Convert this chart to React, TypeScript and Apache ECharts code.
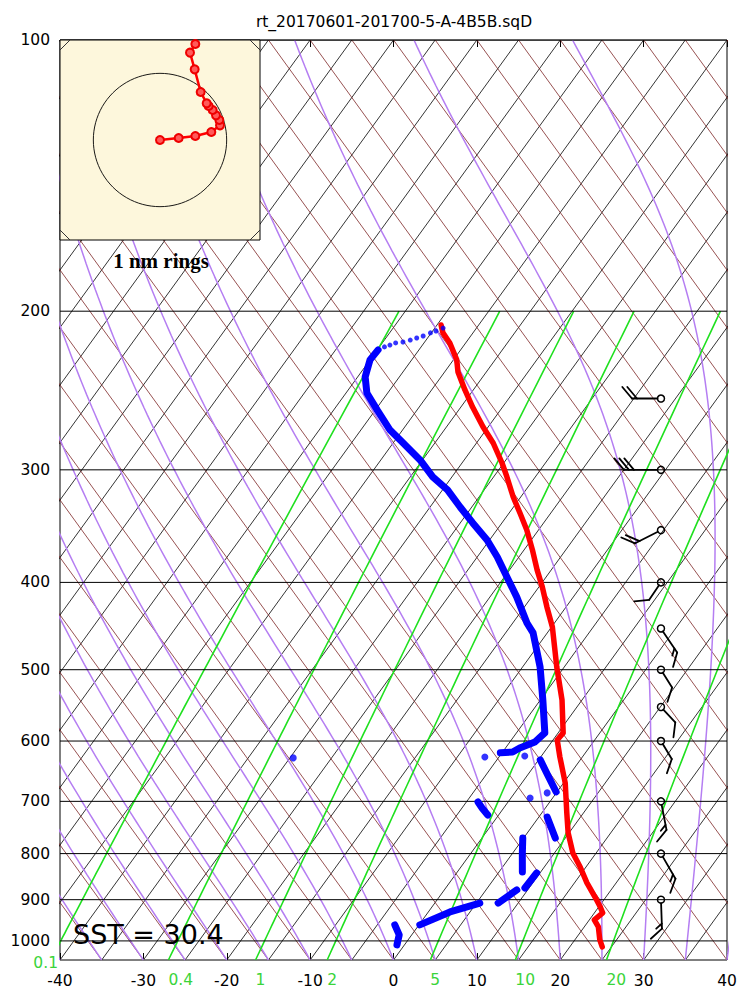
import React, { useEffect, useRef } from "react";
import * as echarts from "echarts";

const FONT = "DejaVu Sans";
const TITLE = "rt_20170601-201700-5-A-4B5B.sqD";
const SST_TEXT = "SST = 30.4";
const RING_TEXT = "1 nm rings";

const P_BOTTOM = 1050;
const P_TOP = 100;
const LOG_BOTTOM = Math.log10(P_BOTTOM);
const LOG_TOP = Math.log10(P_TOP);
const SKEW_SPAN = 80; // isotherm shift (°C) from bottom edge to top edge

const skewX = (t: number, p: number) =>
  t + (SKEW_SPAN * (LOG_BOTTOM - Math.log10(p))) / (LOG_BOTTOM - LOG_TOP);

// ---- diagram reference lines ----
const isobars = [100, 200, 300, 400, 500, 600, 700, 800, 900, 1000];
const isothermStarts: number[] = [];
for (let t = -120; t <= 40; t += 5) isothermStarts.push(t);
const dryStarts: number[] = [];
for (let t = -40; t <= 120; t += 5) dryStarts.push(t);
const moistStarts: number[] = [];
for (let t = -40; t <= 40; t += 5) moistStarts.push(t);
const mixingRatios = [0.1, 0.4, 1, 2, 5, 10, 20];
const mixingLabels = ["0.1", "0.4", "1", "2", "5", "10", "20"];
const MIXING_TOP = 200;

// ---- temperature profile (hPa, °C) ----
const tempP = [207.2, 211.4, 216.9, 226.5, 233.6, 244.6, 255.5, 268.9, 280.1, 294.8, 305.5, 321.6, 335.0, 349.9, 368.1, 387.4, 404.6, 425.9, 448.3, 496.5, 540.2, 587.6, 598.3, 624.9, 667.8, 721.1, 758.9, 798.7, 827.8, 862.3, 894.0, 917.1, 931.0, 947.7, 965.0, 997.5, 1015.5];
const tempT = [-49.5, -48.6, -46.9, -44.6, -43.4, -41.0, -38.6, -35.6, -33.0, -30.2, -28.4, -25.9, -23.7, -21.4, -19.0, -16.7, -14.6, -12.3, -9.9, -5.9, -2.4, 0.6, 0.5, 2.3, 5.2, 8.0, 9.9, 12.2, 14.3, 16.5, 18.7, 20.2, 21.0, 20.6, 21.7, 23.0, 23.9];

// ---- dewpoint profile: continuous segments ----
const dewSegP = [
  [220.8, 226.5, 236.6, 246.5, 257.4, 271.0, 280.1, 292.5, 305.5, 315.8, 329.9, 343.6, 358.9, 374.8, 394.5, 415.1, 443.7, 455.1, 496.5, 540.2, 587.6, 601.4, 610.7, 617.0, 618.4],
  [629.6, 654.3, 683.4],
  [701.2, 712.0, 724.9],
  [728.6, 768.8],
  [768.8, 800.0, 838.4],
  [840.5, 873.5],
  [877.9, 907.8],
  [907.8, 928.7, 959.8],
  [959.8, 984.7, 1010.2],
];
const dewSegT = [
  [-54.9, -55.0, -54.1, -52.5, -49.8, -46.5, -43.8, -40.3, -37.3, -34.4, -31.4, -28.5, -25.3, -22.6, -19.7, -16.8, -13.3, -11.7, -7.9, -4.7, -1.6, -2.0, -3.3, -3.8, -5.2],
  [0.2, 2.4, 4.9],
  [-3.6, -2.6, -1.3],
  [6.0, 8.8],
  [4.9, 6.2, 7.8],
  [9.6, 9.5],
  [8.7, 7.6],
  [5.4, 2.6, 0.1],
  [-2.9, -1.5, -0.9],
];
// isolated dewpoint dots
const dewDotP = [624.9, 623.3, 626.4, 694.0, 685.0];
const dewDotT = [-6.7, -2.0, -29.6, 2.3, 3.9];
// sparse dewpoint dots near the top of the sounding
const dewTopP = [208.8, 210.4, 211.4, 213.1, 214.2, 215.3, 216.4, 216.9, 218.1, 219.1];
const dewTopT = [-49.0, -49.6, -50.1, -50.7, -51.3, -51.9, -52.6, -53.4, -53.9, -54.4];

// ---- wind barbs ----
const BARB_X = 32.08;
const windP = [250, 300, 350, 400, 450, 500, 550, 600, 700, 800, 900];
const windDir = [270, 270, 243, 214, 146, 148, 137, 149, 169, 150, 178];
const windSpd = [20, 30, 20, 10, 15, 10, 10, 10, 15, 15, 15];

// ---- hodograph (nm) ----
const hodoU = [0, 0.28, 0.53, 0.77, 0.9, 0.89, 0.84, 0.79, 0.73, 0.7, 0.61, 0.52, 0.45, 0.53];
const hodoV = [0, 0.03, 0.06, 0.12, 0.22, 0.3, 0.37, 0.45, 0.51, 0.55, 0.72, 1.06, 1.31, 1.44];
const RING_RADII = [1];

function moistAdiabat(t0: number): number[][] {
  const pts: number[][] = [];
  let T = t0 + 273.15;
  const n = 140;
  const l0 = Math.log(P_BOTTOM);
  const l1 = Math.log(P_TOP);
  const h = (l1 - l0) / n;
  const rate = (TK: number, p: number) => {
    const tc = TK - 273.15;
    const es = 6.112 * Math.exp((17.67 * tc) / (tc + 243.5));
    const rs = (0.622 * es) / Math.max(p - es, 1e-6);
    const Lv = 2.501e6;
    return (287.04 * TK + Lv * rs) / (1005.7 + (Lv * Lv * rs * 0.622) / (287.04 * TK * TK));
  };
  for (let i = 0; i <= n; i++) {
    const lp = l0 + i * h;
    const p = Math.exp(lp);
    pts.push([skewX(T - 273.15, p), Math.log10(p)]);
    const k1 = rate(T, p);
    const k2 = rate(T + k1 * h, Math.exp(lp + h));
    T += 0.5 * (k1 + k2) * h;
  }
  return pts;
}

function mixingDewpoint(w: number, p: number) {
  const e = (w * p) / (622 + w);
  const l = Math.log(e / 6.112);
  return (243.5 * l) / (17.67 - l);
}

function mixingLine(w: number): number[][] {
  const pts: number[][] = [];
  for (let p = P_BOTTOM; p >= MIXING_TOP; p -= 10) {
    pts.push([skewX(mixingDewpoint(w, p), p), Math.log10(p)]);
  }
  return pts;
}

const bgLine = (data: number[][], color: string, width: number, z = 2) => ({
  type: "line",
  data,
  showSymbol: false,
  symbol: "none",
  silent: true,
  clip: true,
  animation: false,
  xAxisIndex: 0,
  yAxisIndex: 0,
  z,
  lineStyle: { color, width },
});

export default function App() {
  const ref = useRef<HTMLDivElement>(null);

  useEffect(() => {
    document.body.style.margin = "0";
    if (!ref.current) return;
    const chart = echarts.init(ref.current, undefined, { renderer: "svg" });

    const series: any[] = [];

    isothermStarts.forEach((t) =>
      series.push(bgLine([[t, LOG_BOTTOM], [t + SKEW_SPAN, LOG_TOP]], "#000000", 0.8))
    );
    dryStarts.forEach((t) =>
      series.push(bgLine([[t, LOG_BOTTOM], [t - SKEW_SPAN, LOG_TOP]], "#7d2626", 0.8))
    );
    moistStarts.forEach((t) => series.push(bgLine(moistAdiabat(t), "#b57ef2", 1.5)));
    mixingRatios.forEach((w) => series.push(bgLine(mixingLine(w), "#1fe01f", 1.6)));
    isobars.forEach((p) =>
      series.push(bgLine([[-40, Math.log10(p)], [40, Math.log10(p)]], "#000000", 1, 3))
    );

    // temperature
    series.push({
      type: "line",
      data: tempP.map((p, i) => [skewX(tempT[i], p), Math.log10(p)]),
      showSymbol: false,
      symbol: "none",
      silent: true,
      z: 5,
      lineStyle: { color: "#ff0000", width: 5.5, cap: "round", join: "round" },
    });
    // dewpoint segments
    dewSegP.forEach((seg, s) =>
      series.push({
        type: "line",
        data: seg.map((p, i) => [skewX(dewSegT[s][i], p), Math.log10(p)]),
        showSymbol: false,
        symbol: "none",
        silent: true,
        z: 5,
        lineStyle: { color: "#0000ff", width: 7, cap: "round", join: "round" },
      })
    );
    series.push({
      type: "scatter",
      data: dewDotP.map((p, i) => [skewX(dewDotT[i], p), Math.log10(p)]),
      symbolSize: 7,
      silent: true,
      z: 5,
      itemStyle: { color: "#0000ff" },
    });
    series.push({
      type: "scatter",
      data: dewTopP.map((p, i) => [skewX(dewTopT[i], p), Math.log10(p)]),
      symbolSize: 5,
      silent: true,
      z: 5,
      itemStyle: { color: "#0000ff" },
    });

    // pressure labels
    series.push({
      type: "custom",
      xAxisIndex: 0,
      yAxisIndex: 0,
      silent: true,
      z: 6,
      data: isobars.map((p) => [-40, Math.log10(p)]),
      renderItem: (params: any, api: any) => {
        const pt = api.coord([api.value(0), api.value(1)]);
        return {
          type: "text",
          style: {
            text: String(isobars[params.dataIndex]),
            x: pt[0] - 10,
            y: pt[1],
            textAlign: "right",
            align: "right",
            textVerticalAlign: "middle",
            verticalAlign: "middle",
            fontSize: 15.5,
            fontFamily: FONT,
            fill: "#000",
          },
        };
      },
    });

    // mixing ratio labels
    series.push({
      type: "custom",
      xAxisIndex: 0,
      yAxisIndex: 0,
      silent: true,
      z: 6,
      data: mixingRatios.map((w) => [mixingDewpoint(w, P_BOTTOM), LOG_BOTTOM]),
      renderItem: (params: any, api: any) => {
        const xv = api.value(0);
        const inside = xv >= -40;
        const pt = api.coord([inside ? xv : -40, api.value(1)]);
        return {
          type: "text",
          style: {
            text: mixingLabels[params.dataIndex],
            x: inside ? pt[0] : pt[0] - 2,
            y: inside ? pt[1] + 20 : pt[1] + 3,
            textAlign: inside ? "left" : "right",
            align: inside ? "left" : "right",
            textVerticalAlign: "middle",
            verticalAlign: "middle",
            fontSize: 15.5,
            fontFamily: FONT,
            fill: "#3ad43a",
          },
        };
      },
    });

    // wind barbs
    series.push({
      type: "custom",
      xAxisIndex: 0,
      yAxisIndex: 0,
      silent: true,
      z: 7,
      data: windP.map((p) => [BARB_X, Math.log10(p)]),
      renderItem: (params: any, api: any) => {
        const i = params.dataIndex;
        const [sx, sy] = api.coord([api.value(0), api.value(1)]);
        const d = (windDir[i] * Math.PI) / 180;
        const ux = Math.sin(d);
        const uy = -Math.cos(d);
        let spd = windSpd[i];
        const flags = Math.floor(spd / 50);
        spd -= flags * 50;
        const full = Math.floor(spd / 10);
        spd -= full * 10;
        const half = spd >= 5 ? 1 : 0;
        const n = flags + full + half;
        const L = 13 + 8 * n;
        const r = 3.5;
        const tx = sx + ux * L;
        const ty = sy + uy * L;
        const a = (50 * Math.PI) / 180;
        const vx = ux * Math.cos(a) - uy * Math.sin(a);
        const vy = ux * Math.sin(a) + uy * Math.cos(a);
        const stroke = { stroke: "#000", lineWidth: 1.8, lineCap: "round" };
        const children: any[] = [
          { type: "circle", shape: { cx: sx, cy: sy, r }, style: { fill: "none", stroke: "#000", lineWidth: 1.5 } },
          { type: "line", shape: { x1: sx + ux * r, y1: sy + uy * r, x2: tx, y2: ty }, style: stroke },
        ];
        let k = 0;
        for (let f = 0; f < full; f++, k++) {
          const qx = tx - ux * 5 * k;
          const qy = ty - uy * 5 * k;
          children.push({ type: "line", shape: { x1: qx, y1: qy, x2: qx + vx * 15, y2: qy + vy * 15 }, style: stroke });
        }
        if (half) {
          if (k === 0) k = 1;
          const qx = tx - ux * 5 * k;
          const qy = ty - uy * 5 * k;
          children.push({ type: "line", shape: { x1: qx, y1: qy, x2: qx + vx * 7.5, y2: qy + vy * 7.5 }, style: stroke });
        }
        return { type: "group", children };
      },
    });

    // hodograph inset box + rings
    series.push({
      type: "custom",
      xAxisIndex: 2,
      yAxisIndex: 1,
      silent: true,
      z: 10,
      data: [[0, 0]],
      renderItem: (params: any, api: any) => {
        const cs = params.coordSys;
        const c = api.coord([0, 0]);
        const ch = 10;
        const edge = { stroke: "#333", lineWidth: 1 };
        const children: any[] = [
          { type: "rect", shape: { x: cs.x, y: cs.y, width: cs.width, height: cs.height }, style: { fill: "#fdf7dc", stroke: "#000", lineWidth: 1 } },
          { type: "line", shape: { x1: cs.x, y1: cs.y + ch, x2: cs.x + ch, y2: cs.y }, style: edge },
          { type: "line", shape: { x1: cs.x + cs.width - ch, y1: cs.y, x2: cs.x + cs.width, y2: cs.y + ch }, style: edge },
          { type: "line", shape: { x1: cs.x, y1: cs.y + cs.height - ch, x2: cs.x + ch, y2: cs.y + cs.height }, style: edge },
          { type: "line", shape: { x1: cs.x + cs.width - ch, y1: cs.y + cs.height, x2: cs.x + cs.width, y2: cs.y + cs.height - ch }, style: edge },
        ];
        RING_RADII.forEach((rr) => {
          const rpx = api.size([rr, 0])[0];
          children.push({ type: "circle", shape: { cx: c[0], cy: c[1], r: rpx }, style: { fill: "none", stroke: "#000", lineWidth: 0.9 } });
        });
        return { type: "group", children };
      },
    });

    series.push({
      type: "line",
      xAxisIndex: 2,
      yAxisIndex: 1,
      data: hodoU.map((u, i) => [u, hodoV[i]]),
      symbol: "circle",
      symbolSize: 8,
      silent: true,
      z: 12,
      lineStyle: { color: "#ff0000", width: 2.5 },
      itemStyle: { color: "#ff5a5a", borderColor: "#ee0000", borderWidth: 2 },
    });

    const option: any = {
      animation: false,
      backgroundColor: "#ffffff",
      textStyle: { fontFamily: FONT },
      grid: [
        { left: 60, right: 23, top: 40, bottom: 40, show: true, borderColor: "#000", borderWidth: 1, backgroundColor: "transparent" },
        { left: 60, top: 40, width: 200, height: 200, show: false },
      ],
      xAxis: [
        {
          gridIndex: 0,
          type: "value",
          min: -40,
          max: 40,
          interval: 10,
          position: "bottom",
          axisLine: { show: false },
          axisTick: { show: true, inside: true, length: 7, lineStyle: { color: "#000" } },
          axisLabel: { color: "#000", fontSize: 15.5, fontFamily: FONT, margin: 13, showMinLabel: true, showMaxLabel: true },
          splitLine: { show: false },
        },
        {
          gridIndex: 0,
          type: "value",
          min: -40,
          max: 40,
          interval: 10,
          position: "top",
          axisLine: { show: false },
          axisTick: { show: true, inside: true, length: 7, lineStyle: { color: "#000" } },
          axisLabel: { show: false },
          splitLine: { show: false },
        },
        { gridIndex: 1, type: "value", min: -1.5, max: 1.5, show: false },
      ],
      yAxis: [
        { gridIndex: 0, type: "value", min: LOG_TOP, max: LOG_BOTTOM, inverse: true, show: false },
        { gridIndex: 1, type: "value", min: -1.5, max: 1.5, show: false },
      ],
      graphic: [
        {
          type: "text",
          z: 100,
          x: 394,
          y: 22,
          style: { text: TITLE, fontSize: 15.5, fontFamily: FONT, fill: "#000", textAlign: "center", textVerticalAlign: "middle", align: "center", verticalAlign: "middle" },
        },
        {
          type: "text",
          z: 100,
          x: 73,
          y: 934,
          style: { text: SST_TEXT, fontSize: 27, fontFamily: FONT, fill: "#000", textAlign: "left", textVerticalAlign: "middle", align: "left", verticalAlign: "middle" },
        },
        {
          type: "text",
          z: 100,
          x: 161,
          y: 261,
          style: { text: RING_TEXT, fontSize: 21, fontWeight: "bold", fontFamily: "Liberation Serif", fill: "#000", textAlign: "center", textVerticalAlign: "middle", align: "center", verticalAlign: "middle" },
        },
      ],
      series,
    };

    chart.setOption(option);
    return () => chart.dispose();
  }, []);

  return <div ref={ref} style={{ width: 750, height: 1000 }} />;
}
